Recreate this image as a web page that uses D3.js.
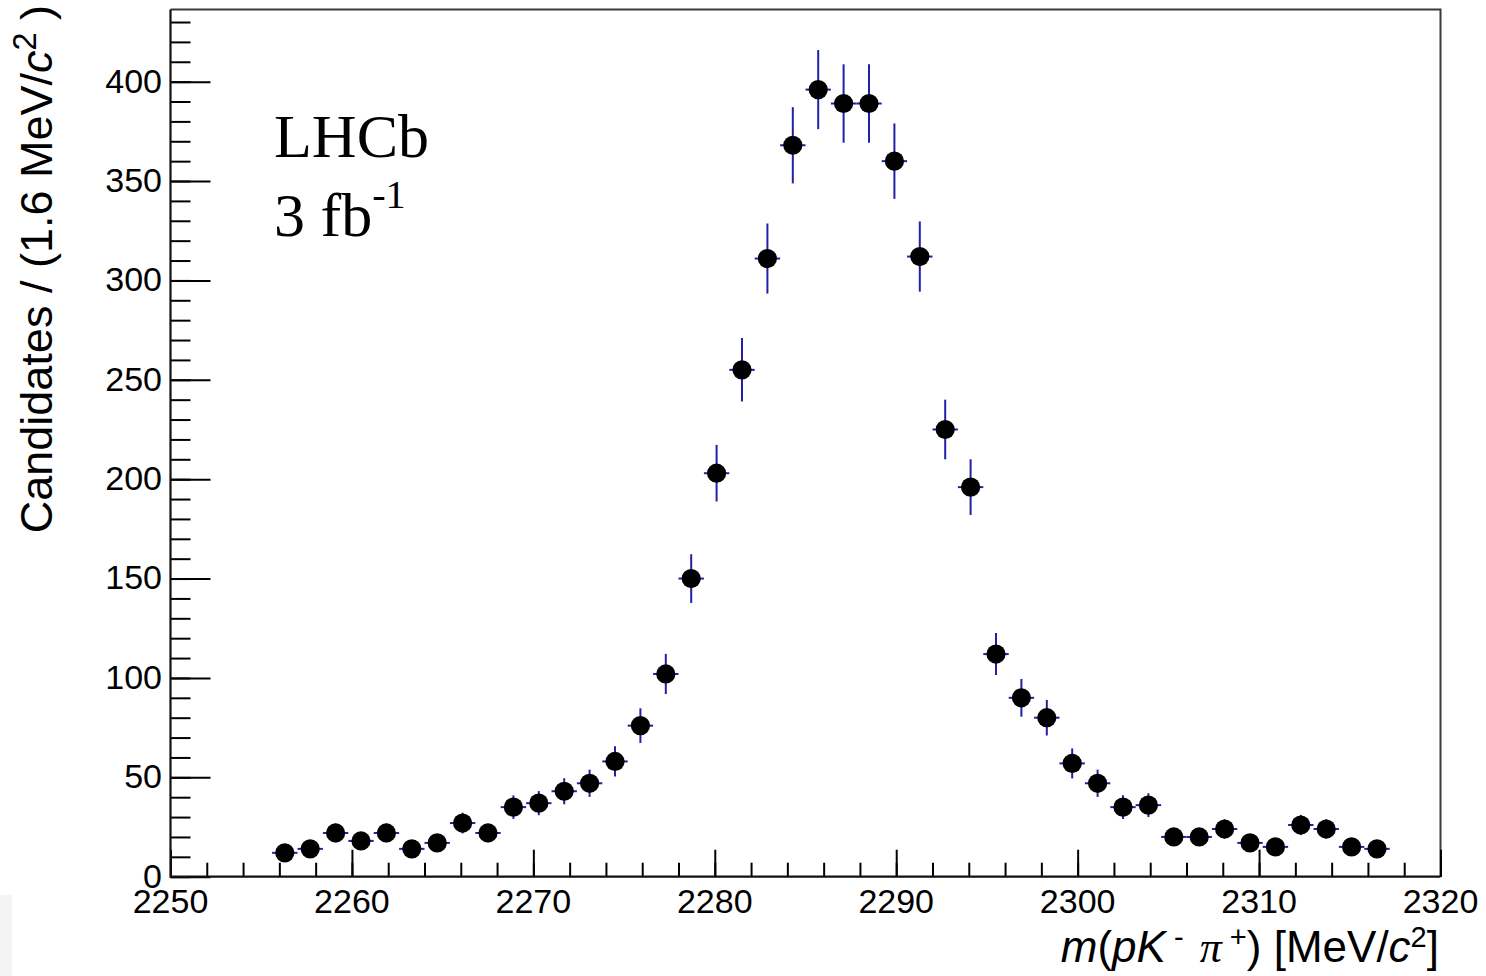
<!DOCTYPE html>
<html>
<head>
<meta charset="utf-8">
<script src="https://cdn.jsdelivr.net/npm/d3@7"></script>
<style>
  html, body { margin: 0; padding: 0; background: #ffffff; }
  svg { display: block; }
</style>
</head>
<body>
<svg id="chart" width="1486" height="976"></svg>
<script>
// Invariant mass of pK-pi+ candidates (Lambda_c+ peak), LHCb 3 fb^-1

// Bin centres [MeV/c^2]
const binCenters = [
  2256.3, 2257.7, 2259.1, 2260.5, 2261.9, 2263.3, 2264.7, 2266.1, 2267.5, 2268.9,
  2270.3, 2271.7, 2273.1, 2274.5, 2275.9, 2277.3, 2278.7, 2280.1, 2281.5, 2282.9,
  2284.3, 2285.7, 2287.1, 2288.5, 2289.9, 2291.3, 2292.7, 2294.1, 2295.5, 2296.9,
  2298.3, 2299.7, 2301.1, 2302.5, 2303.9, 2305.3, 2306.7, 2308.1, 2309.5, 2310.9,
  2312.3, 2313.7, 2315.1, 2316.5
];

// Candidates per bin
const counts = [
  12, 14, 22, 18, 22, 14, 17, 27, 22, 35,
  37, 43, 47, 58, 76, 102, 150, 203, 255, 311,
  368, 396, 389, 389, 360, 312, 225, 196, 112, 90,
  80, 57, 47, 35, 36, 20, 20, 24, 17, 15,
  26, 24, 15, 14
];

// Half bin width [MeV/c^2]
const halfBin = 0.7;

// Axis ranges and tick values
const xDomain = [2250, 2320];
const yDomain = [0, 436.3];
const xMajorTicks = [2250, 2260, 2270, 2280, 2290, 2300, 2310, 2320];
const xMinorTicks = d3.range(2250, 2320.1, 2);
const yMajorTicks = [0, 50, 100, 150, 200, 250, 300, 350, 400];
const yMinorTicks = d3.range(0, 436, 10);

const svg = d3.select("#chart");
const frame = { left: 170.5, right: 1440.5, top: 9.5, bottom: 876.7 };

const x = d3.scaleLinear().domain(xDomain).range([frame.left, frame.right]);
const y = d3.scaleLinear().domain(yDomain).range([frame.bottom, frame.top]);

const sans = "'Liberation Sans', Arial, sans-serif";
const serif = "'Liberation Serif', 'Times New Roman', serif";

// light panel strip in the lower-left corner
svg.append("rect")
  .attr("x", 0).attr("y", 895).attr("width", 12).attr("height", 81)
  .attr("fill", "#f3f4f4");

// frame: top and right edges
svg.append("path")
  .attr("d", `M${frame.left},${frame.top}H${frame.right}V${frame.bottom}`)
  .attr("fill", "none").attr("stroke", "#3a3a3a").attr("stroke-width", 2);

// x axis: ticks point up into the plot
const xAxisMinor = d3.axisTop(x).tickValues(xMinorTicks).tickSize(14).tickFormat("");
const xAxisMajor = d3.axisTop(x).tickValues(xMajorTicks).tickSize(27).tickFormat("");
[xAxisMinor, xAxisMajor].forEach(ax => {
  const g = svg.append("g").attr("transform", `translate(0,${frame.bottom})`).call(ax);
  g.select(".domain").remove();
  g.selectAll(".tick line").attr("stroke", "#000").attr("stroke-width", 2);
});
svg.append("g")
  .selectAll("text")
  .data(xMajorTicks)
  .join("text")
  .attr("x", d => x(d))
  .attr("y", 913)
  .attr("text-anchor", "middle")
  .attr("font-family", sans)
  .attr("font-size", 34)
  .attr("fill", "#000")
  .text(d => d);

// y axis: ticks point right into the plot
const yAxisMinor = d3.axisRight(y).tickValues(yMinorTicks).tickSize(20).tickFormat("");
const yAxisMajor = d3.axisRight(y).tickValues(yMajorTicks).tickSize(40).tickFormat("");
[yAxisMinor, yAxisMajor].forEach(ax => {
  const g = svg.append("g").attr("transform", `translate(${frame.left},0)`).call(ax);
  g.select(".domain").remove();
  g.selectAll(".tick line").attr("stroke", "#000").attr("stroke-width", 2);
});
svg.append("g")
  .selectAll("text")
  .data(yMajorTicks)
  .join("text")
  .attr("x", 162)
  .attr("y", d => y(d))
  .attr("dy", "0.32em")
  .attr("text-anchor", "end")
  .attr("font-family", sans)
  .attr("font-size", 34)
  .attr("fill", "#000")
  .text(d => d);

// main axis lines
svg.append("path")
  .attr("d", `M${frame.left},${frame.top}V${frame.bottom}H${frame.right}`)
  .attr("fill", "none").attr("stroke", "#111").attr("stroke-width", 2.2);

// error bars
const errColor = "#2020a8";
const pts = binCenters.map((c, i) => ({ c, n: counts[i], e: Math.sqrt(counts[i]) }));
const bars = svg.append("g").attr("stroke", errColor).attr("stroke-width", 2);
bars.selectAll("line.v")
  .data(pts).join("line").attr("class", "v")
  .attr("x1", d => x(d.c)).attr("x2", d => x(d.c))
  .attr("y1", d => y(d.n - d.e)).attr("y2", d => y(d.n + d.e));
bars.selectAll("line.h")
  .data(pts).join("line").attr("class", "h")
  .attr("x1", d => x(d.c - halfBin)).attr("x2", d => x(d.c + halfBin))
  .attr("y1", d => y(d.n)).attr("y2", d => y(d.n));

// markers
svg.append("g")
  .selectAll("circle")
  .data(pts)
  .join("circle")
  .attr("cx", d => x(d.c))
  .attr("cy", d => y(d.n))
  .attr("r", 9.6)
  .attr("fill", "#000");

// rich-text helper: segments of {t, italic, sup, family}
function richText(sel, segs, baseSize, supScale, supRise) {
  let shifted = false;
  segs.forEach(s => {
    const ts = sel.append("tspan").text(s.t);
    if (s.italic) ts.attr("font-style", "italic");
    if (s.family) ts.attr("font-family", s.family);
    if (s.sup && !shifted) { ts.attr("dy", -supRise); shifted = true; }
    else if (!s.sup && shifted) { ts.attr("dy", supRise); shifted = false; }
    ts.attr("font-size", s.sup ? baseSize * supScale : baseSize);
  });
}

// y-axis title
const yTitle = svg.append("text")
  .attr("transform", "translate(52,5) rotate(-90)")
  .attr("text-anchor", "end")
  .attr("font-family", sans)
  .attr("fill", "#000");
richText(yTitle, [
  { t: "Candidates / (1.6 MeV/" },
  { t: "c", italic: true },
  { t: "2", sup: true },
  { t: " )" }
], 45, 0.72, 16);

// x-axis title
const xTitle = svg.append("text")
  .attr("x", 1439).attr("y", 962)
  .attr("text-anchor", "end")
  .attr("font-family", sans)
  .attr("fill", "#000");
richText(xTitle, [
  { t: "m", italic: true },
  { t: "(" },
  { t: "pK", italic: true },
  { t: "\u00a0-\u00a0\u00a0", sup: true },
  { t: "\u03c0", italic: true, family: serif },
  { t: "\u00a0+", sup: true },
  { t: ") [MeV/" },
  { t: "c", italic: true },
  { t: "2", sup: true },
  { t: "]" }
], 44, 0.66, 15);

// experiment label
svg.append("text")
  .attr("x", 274).attr("y", 157)
  .attr("font-family", serif).attr("font-size", 62).attr("fill", "#000")
  .text("LHCb");
const lumi = svg.append("text")
  .attr("x", 274).attr("y", 236)
  .attr("font-family", serif).attr("fill", "#000");
richText(lumi, [
  { t: "3 fb" },
  { t: "-1", sup: true }
], 62, 0.65, 28);
</script>
</body>
</html>
